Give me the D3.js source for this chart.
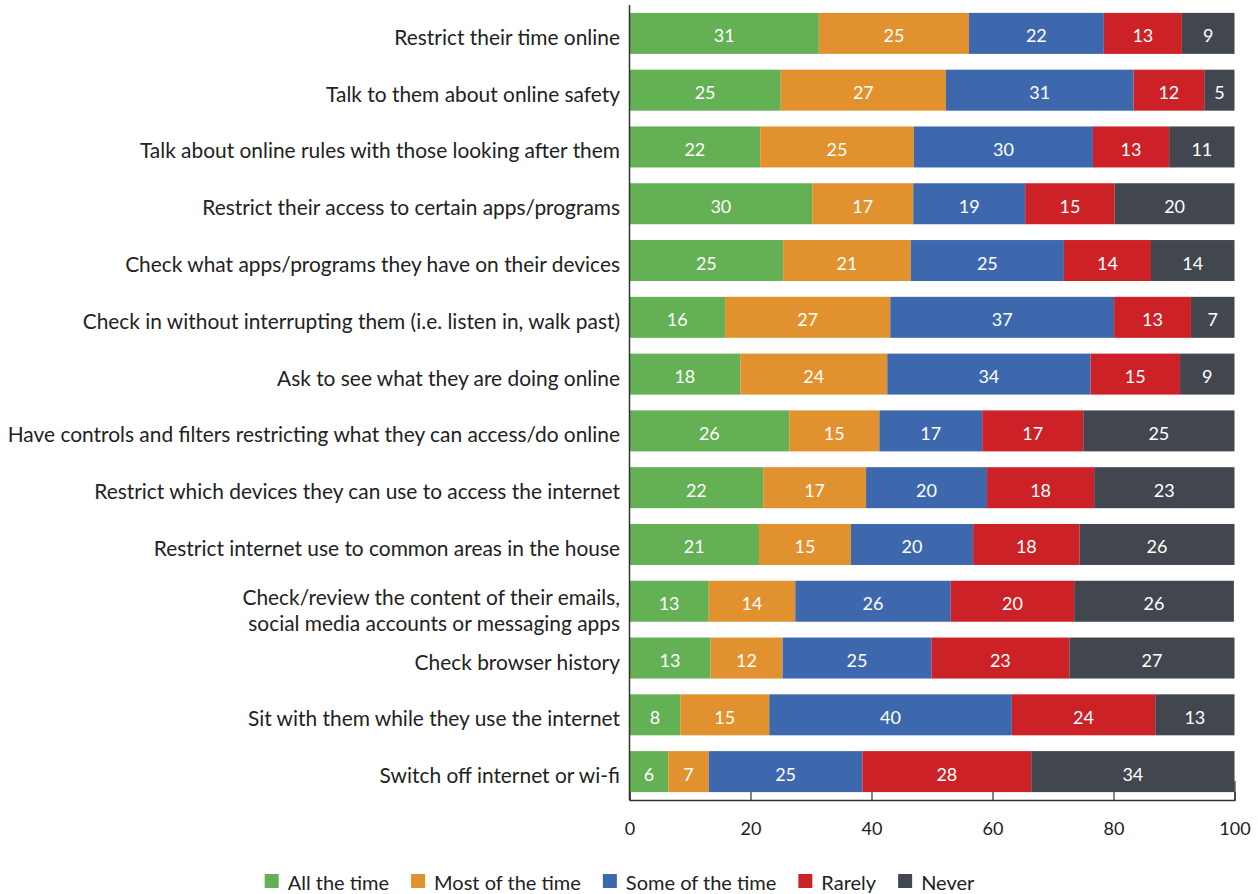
<!DOCTYPE html>
<html><head><meta charset="utf-8">
<script src="https://cdn.jsdelivr.net/npm/d3@7"></script>
<style>
html,body{margin:0;padding:0;background:#fff;}
svg{display:block;}
</style></head>
<body>
<svg id="chart" width="1258" height="894"></svg>
<script>
const categories = [
  "Restrict their time online",
  "Talk to them about online safety",
  "Talk about online rules with those looking after them",
  "Restrict their access to certain apps/programs",
  "Check what apps/programs they have on their devices",
  "Check in without interrupting them (i.e. listen in, walk past)",
  "Ask to see what they are doing online",
  "Have controls and filters restricting what they can access/do online",
  "Restrict which devices they can use to access the internet",
  "Restrict internet use to common areas in the house",
  "Check/review the content of their emails,|social media accounts or messaging apps",
  "Check browser history",
  "Sit with them while they use the internet",
  "Switch off internet or wi-fi"
];
const seriesNames = ["All the time", "Most of the time", "Some of the time", "Rarely", "Never"];
const allTheTime   = [31.3, 25.0, 21.6, 30.2, 25.4, 15.8, 18.3, 26.4, 22.1, 21.4, 13.1, 13.4, 8.4, 6.4];
const mostOfTheTime= [24.8, 27.3, 25.4, 16.7, 21.1, 27.3, 24.3, 14.9, 17.0, 15.2, 14.3, 11.9, 14.7, 6.7];
const someOfTheTime= [22.3, 31.0, 29.6, 18.5, 25.3, 37.0, 33.6, 17.0, 20.0, 20.2, 25.7, 24.6, 40.1, 25.4];
const rarely       = [12.9, 11.7, 12.6, 14.8, 14.4, 12.7, 14.8, 16.7, 17.7, 17.6, 20.4, 22.8, 23.7, 27.9];
const never        = [8.7, 5.0, 10.8, 19.8, 13.8, 7.2, 9.0, 25.0, 23.2, 25.6, 26.4, 27.3, 13.1, 33.6];
const xTicks = [0, 20, 40, 60, 80, 100];
const colors = ["#64b054", "#e1922f", "#3e68ad", "#cc2227", "#42474f"];

const seriesValues = [allTheTime, mostOfTheTime, someOfTheTime, rarely, never];
const rows = categories.map((c, i) => {
  const o = {cat: c};
  seriesNames.forEach((s, j) => o[s] = seriesValues[j][i]);
  return o;
});
const stacked = d3.stack().keys(seriesNames)(rows);

const svg = d3.select("#chart");
const x = d3.scaleLinear().domain([0, 100]).range([629.5, 1234.5]);
const y = d3.scaleBand().domain(categories).range([5, 800]).paddingInner(0.278).paddingOuter(0.139);
const color = d3.scaleOrdinal().domain(seriesNames).range(colors);

const labelFont = "Lato, 'Open Sans', sans-serif";

// bars
const g = svg.append("g");
const layers = g.selectAll("g.layer").data(stacked).join("g").attr("class","layer")
  .attr("fill", d => color(d.key));
layers.selectAll("rect").data(d => d).join("rect")
  .attr("x", d => x(d[0]))
  .attr("y", d => y(d.data.cat))
  .attr("width", d => x(d[1]) - x(d[0]))
  .attr("height", y.bandwidth());

// value labels
layers.selectAll("text").data(d => d).join("text")
  .attr("x", d => (x(d[0]) + x(d[1])) / 2)
  .attr("y", d => y(d.data.cat) + y.bandwidth()/2 + 2)
  .attr("text-anchor", "middle")
  .attr("dominant-baseline", "central")
  .attr("fill", "#fff")
  .style("font-family", labelFont)
  .style("font-size", "18px")
  .text(d => d3.format(".0f")(d[1] - d[0]));

// y axis line
svg.append("line").attr("x1", 629.5).attr("x2", 629.5).attr("y1", 5).attr("y2", 800)
  .attr("stroke", "#333").attr("stroke-width", 1.5);

// category labels
const catG = svg.append("g");
categories.forEach(c => {
  const lines = c.split("|");
  const cy = y(c) + y.bandwidth()/2;
  lines.forEach((ln, k) => {
    catG.append("text")
      .attr("text-anchor", "end")
      .attr("fill", "#222")
      .style("font-family", labelFont)
      .style("font-size", "20.9px")
      .attr("x", 620)
      .attr("y", lines.length === 1 ? cy + 3 : cy - 5 + k * 26)
      .attr("dominant-baseline", "central")
      .text(ln);
  });
});

// x axis
const xAxis = d3.axisBottom(x).tickValues(xTicks).tickSize(-8).tickPadding(22).tickFormat(d3.format("d"));
const ax = svg.append("g").attr("transform", "translate(0,800)").call(xAxis);
ax.select(".domain").attr("stroke", "#333").attr("stroke-width", 1.5);
ax.selectAll(".tick line").attr("stroke", "#333").attr("stroke-width", 1.2)
  .attr("y2", d => d === 100 ? -19 : -8);
ax.selectAll(".tick text").style("font-family", labelFont).style("font-size", "18px").attr("fill", "#222");

// legend
const leg = svg.append("g");
let cx = 0;
const gap = 22;
seriesNames.forEach((s, i) => {
  const it = leg.append("g");
  it.append("rect").attr("x", 0).attr("y", -6).attr("width", 14).attr("height", 14).attr("fill", colors[i]);
  const tx = it.append("text").attr("x", 23).attr("y", 2).attr("dominant-baseline", "central")
    .attr("fill", "#222").style("font-family", labelFont).style("font-size", "20px").text(s);
  const w = 23 + tx.node().getComputedTextLength();
  it.attr("transform", `translate(${cx},0)`);
  cx += w + gap;
});
const totalW = cx - gap;
leg.attr("transform", `translate(${619.5 - totalW/2},880)`);
</script>
</body></html>
